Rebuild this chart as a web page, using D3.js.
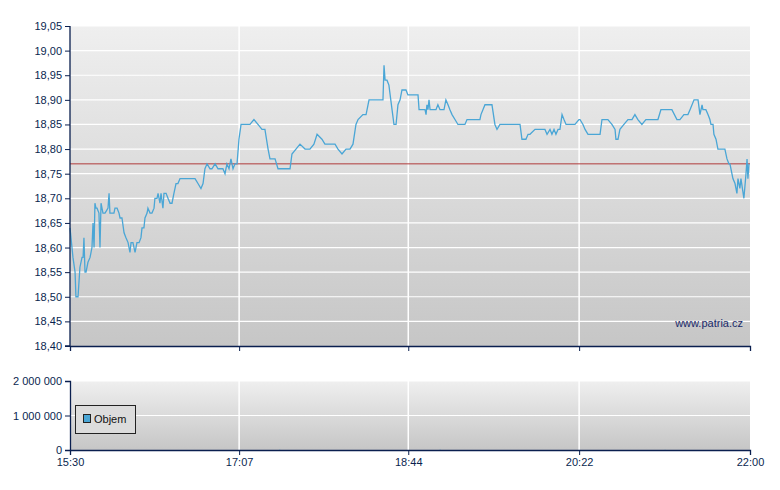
<!DOCTYPE html>
<html><head><meta charset="utf-8">
<script src="https://cdn.jsdelivr.net/npm/d3@7"></script>
<style>body{margin:0;background:#fff}text{font-family:"Liberation Sans",Arial,sans-serif}</style>
</head><body><svg id="c" width="780" height="490"></svg>
<script>
// minutes since 15:30
const times=[0,1.7,2.9,3.4,4.6,5.7,6.9,7.5,8.0,8.6,9.2,10.3,11.5,12.6,13.2,13.8,14.3,14.9,15.5,16.6,17.2,17.8,18.9,20.1,21.8,22.4,22.9,24.1,25.2,25.8,27.0,28.1,28.7,29.8,31.0,32.1,33.3,34.4,35.0,36.1,37.3,38.4,39.6,40.7,41.3,42.4,43.0,44.2,44.7,45.9,47.0,48.2,48.7,49.9,50.5,51.6,52.2,53.3,53.9,55.1,56.2,57.4,58.5,59.6,60.8,61.9,63.1,68.8,71.7,73.4,75.1,76.3,77.4,78.6,80.3,81.4,83.2,84.9,87.7,88.9,90.0,91.2,92.3,93.5,94.6,95.8,96.9,98.1,103.2,105.5,107.8,110.1,111.8,113.6,114.7,117.6,119.3,126.2,127.3,129.6,131.9,134.8,137.6,139.9,141.7,144.5,146.2,149.1,152.0,153.7,156.0,158.3,160.6,162.3,164.0,165.2,168.0,169.8,171.5,177.8,179.5,180.1,180.7,181.8,182.9,184.7,185.8,187.0,188.1,189.3,190.4,192.7,193.8,199.6,200.2,203.6,204.2,204.7,205.3,205.9,206.5,209.9,211.0,212.2,214.5,215.6,216.8,217.9,219.1,220.8,222.5,223.7,224.8,226.5,227.7,229.4,235.1,235.7,238.0,242.0,243.7,244.9,246.6,258.1,259.2,261.5,262.7,263.8,266.7,269.5,272.4,273.6,275.3,276.4,277.6,278.7,279.9,281.0,282.2,283.3,284.5,289.6,291.9,292.5,294.2,295.4,297.1,304.0,305.1,308.5,310.8,312.6,313.1,314.3,315.4,317.7,320.0,322.3,324.0,325.7,328.0,330.3,332.6,337.2,338.9,345.2,348.1,349.8,352.1,353.3,354.4,355.6,357.9,360.2,361.3,362.5,363.0,364.7,365.9,367.0,367.6,368.8,369.3,370.5,371.6,372.8,375.6,376.8,377.9,378.5,380.2,381.4,382.5,383.1,384.2,384.8,386.5,387.7,388.3,388.8,389.4];
const prices=[18.64,18.58,18.55,18.50,18.50,18.56,18.58,18.58,18.62,18.55,18.55,18.57,18.58,18.60,18.65,18.60,18.69,18.68,18.68,18.67,18.60,18.69,18.67,18.67,18.68,18.71,18.67,18.67,18.67,18.68,18.68,18.67,18.66,18.66,18.63,18.62,18.61,18.59,18.61,18.61,18.59,18.61,18.61,18.62,18.64,18.64,18.66,18.67,18.68,18.67,18.67,18.68,18.70,18.70,18.71,18.69,18.71,18.68,18.71,18.71,18.70,18.69,18.69,18.71,18.73,18.73,18.74,18.74,18.74,18.73,18.72,18.73,18.76,18.77,18.76,18.76,18.77,18.76,18.76,18.75,18.77,18.76,18.78,18.76,18.77,18.77,18.82,18.85,18.85,18.86,18.85,18.84,18.84,18.80,18.78,18.78,18.76,18.76,18.79,18.80,18.81,18.80,18.80,18.81,18.83,18.82,18.81,18.81,18.81,18.80,18.79,18.80,18.80,18.81,18.85,18.86,18.87,18.87,18.90,18.90,18.90,18.97,18.94,18.94,18.93,18.88,18.85,18.85,18.89,18.90,18.92,18.92,18.91,18.91,18.88,18.88,18.87,18.89,18.88,18.90,18.88,18.88,18.89,18.88,18.88,18.90,18.89,18.88,18.87,18.86,18.85,18.85,18.85,18.85,18.86,18.86,18.86,18.87,18.89,18.89,18.85,18.84,18.85,18.85,18.82,18.82,18.83,18.83,18.84,18.84,18.84,18.83,18.84,18.83,18.84,18.83,18.84,18.84,18.87,18.86,18.85,18.85,18.86,18.86,18.85,18.84,18.83,18.83,18.86,18.86,18.85,18.84,18.82,18.82,18.84,18.85,18.86,18.86,18.87,18.86,18.85,18.86,18.86,18.86,18.88,18.88,18.86,18.86,18.87,18.87,18.87,18.88,18.90,18.90,18.87,18.89,18.88,18.88,18.87,18.86,18.85,18.85,18.83,18.82,18.80,18.80,18.80,18.78,18.77,18.77,18.74,18.73,18.71,18.74,18.72,18.74,18.70,18.75,18.78,18.74,18.77];
const refPrice=18.77;
const priceTicks=[18.40,18.45,18.50,18.55,18.60,18.65,18.70,18.75,18.80,18.85,18.90,18.95,19.00,19.05];
const timeTickLabels=["15:30","17:07","18:44","20:22","22:00"];
const timeTickMinutes=[0,97,194,292,390];
const volTicks=[0,1000000,2000000];
const volTimes=[120,212,341];
const volValues=[8000,9000,5000];

const svg=d3.select("#c");
const L=70,R=750,T=26,B=346,VT=381,VB=450;
const x=d3.scaleLinear().domain([0,390]).range([L,R]);
const y=d3.scaleLinear().domain([18.40,19.05]).range([B,T]);
const yv=d3.scaleLinear().domain([0,2000000]).range([VB,VT]);
const defs=svg.append("defs");
const g=defs.append("linearGradient").attr("id","bg").attr("x1",0).attr("y1",0).attr("x2",0).attr("y2",1);
g.append("stop").attr("offset",0).attr("stop-color","#efefef");
g.append("stop").attr("offset",1).attr("stop-color","#c6c6c6");
svg.append("rect").attr("x",L).attr("y",T).attr("width",R-L).attr("height",B-T).attr("fill","url(#bg)");
svg.append("rect").attr("x",L).attr("y",VT).attr("width",R-L).attr("height",VB-VT).attr("fill","url(#bg)");
const fmt=v=>v.toFixed(2).replace(".",",");
// grids
svg.append("g").selectAll("line").data(priceTicks.slice(1)).join("line")
 .attr("x1",L).attr("x2",R).attr("y1",d=>y(d)).attr("y2",d=>y(d)).attr("stroke","#fff").attr("stroke-width",1.2);
svg.append("g").selectAll("line").data(timeTickMinutes.slice(1,4)).join("line")
 .attr("x1",d=>x(d)).attr("x2",d=>x(d)).attr("y1",T).attr("y2",B).attr("stroke","#fff").attr("stroke-width",1.5);
svg.append("g").selectAll("line").data(volTicks.slice(1)).join("line")
 .attr("x1",L).attr("x2",R).attr("y1",d=>yv(d)).attr("y2",d=>yv(d)).attr("stroke","#fff").attr("stroke-width",1.2);
svg.append("g").selectAll("line").data(timeTickMinutes.slice(1,4)).join("line")
 .attr("x1",d=>x(d)).attr("x2",d=>x(d)).attr("y1",VT).attr("y2",VB).attr("stroke","#fff").attr("stroke-width",1.5);
// ref line
svg.append("line").attr("x1",L).attr("x2",R).attr("y1",y(refPrice)).attr("y2",y(refPrice)).attr("stroke","#b03a3a").attr("stroke-width",1);
// price line
const data=times.map((t,i)=>[t,prices[i]]);
svg.append("path").datum(data).attr("fill","none").attr("stroke","#4aa6d6").attr("stroke-width",1.3)
 .attr("d",d3.line().x(d=>x(d[0])).y(d=>y(d[1])));
// volume bars
svg.append("g").selectAll("rect").data(volTimes).join("rect")
 .attr("x",d=>x(d)).attr("width",1).attr("y",(d,i)=>yv(volValues[i])).attr("height",(d,i)=>VB-yv(volValues[i])).attr("fill","#4aa6d6");
// axes
const col="#0a1f4f";
const ax=svg.append("g").attr("transform",`translate(${L},0)`).call(d3.axisLeft(y).tickValues(priceTicks).tickFormat(fmt).tickSize(5));
const xa=svg.append("g").attr("transform",`translate(0,${B})`).call(d3.axisBottom(x).tickValues(timeTickMinutes).tickFormat("").tickSize(5));
const av=svg.append("g").attr("transform",`translate(${L},0)`).call(d3.axisLeft(yv).tickValues(volTicks).tickFormat(v=>d3.format(",")(v).replace(/,/g," ")).tickSize(5));
const xv=svg.append("g").attr("transform",`translate(0,${VB})`).call(d3.axisBottom(x).tickValues(timeTickMinutes).tickFormat((d,i)=>timeTickLabels[i]).tickSize(5));
[ax,xa,av,xv].forEach(a=>{a.selectAll("path,line").attr("stroke",col);a.selectAll("text").attr("fill",col).style("font-size","11px");a.select(".domain").attr("stroke-width",1.3)});
ax.selectAll("path.domain").attr("d",`M-5,${B}H0V${T}`);
// legend
svg.append("rect").attr("x",75.5).attr("y",405.5).attr("width",60).attr("height",28).attr("fill","#dcdcdc").attr("stroke","#222");
svg.append("rect").attr("x",83.5).attr("y",414.5).attr("width",7).attr("height",8).attr("fill","#4aa6d6").attr("stroke","#222");
svg.append("text").attr("x",94).attr("y",423).text("Objem").style("font-size","11px").attr("fill","#111");
svg.append("text").attr("x",743).attr("y",327).attr("text-anchor","end").text("www.patria.cz").style("font-size","11px").attr("fill","#1a2a6a");
</script></body></html>
